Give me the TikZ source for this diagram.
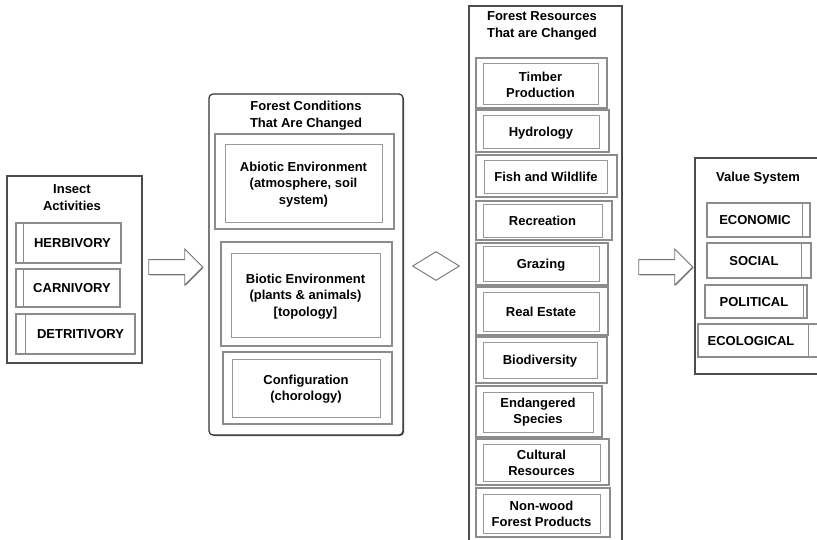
\documentclass[tikz,border=0pt]{standalone}
\usepackage{fontspec}
\setmainfont{Liberation Sans}
\usetikzlibrary{fit,shapes.geometric,shapes.arrows,shadows}
\begin{document}
\begin{tikzpicture}[x=1pt,y=-1pt,
  font=\fontsize{13}{16.5}\selectfont\bfseries,
  cont/.style={draw=black!70, line width=1.2pt, fill=white, inner sep=0pt},
  rcont/.style={draw=black!80, line width=1.2pt, fill=white, inner sep=0pt, rounded corners=4pt,
     drop shadow={shadow xshift=1pt, shadow yshift=-1pt, fill=black!70, opacity=1}},
  obox/.style={draw=black!45, line width=1.1pt, fill=white, inner sep=0pt,
     drop shadow={shadow xshift=1.2pt, shadow yshift=-1.2pt, fill=black!75, opacity=1}},
  ibox/.style={draw=black!40, line width=0.8pt, fill=white, inner sep=0pt},
  tabline/.style={draw=black!45, line width=0.9pt},
  lbl/.style={inner sep=0pt, align=center},
  barrow/.style={single arrow, draw=black!55, fill=white, line width=0.9pt,
     inner xsep=0pt, inner ysep=7pt, single arrow head extend=10.5pt,
     minimum height=54pt, single arrow tip angle=90,
     drop shadow={shadow xshift=0.8pt, shadow yshift=-0.8pt, fill=black!50, opacity=1}}]
\useasboundingbox (0,0) rectangle (817,539);
\clip (0,0) rectangle (817,539);

% ---------- Insect Activities ----------
\node[cont, fit={(7,176) (142,363)}] (insect) {};
\node[lbl] (insectT) at (72,197.5) {Insect\\Activities};
\node[obox, fit={(16,223) (121,263)}] (herb) {};
\draw[tabline] ([xshift=8pt]herb.north west) -- ([xshift=8pt]herb.south west);
\node[lbl] (herbT) at (72.5,243) {HERBIVORY};
\node[obox, fit={(16,269) (120,307)}] (carn) {};
\draw[tabline] ([xshift=8pt]carn.north west) -- ([xshift=8pt]carn.south west);
\node[lbl] (carnT) at (72,288) {CARNIVORY};
\node[obox, fit={(16,314) (135,354)}] (detr) {};
\draw[tabline] ([xshift=10pt]detr.north west) -- ([xshift=10pt]detr.south west);
\node[lbl] (detrT) at (80.5,334) {DETRITIVORY};

% ---------- arrow 1 ----------
\node[barrow] (arr1) at (172,267) {};

% ---------- Forest Conditions ----------
\node[rcont, fit={(209,94) (403,435)}] (cond) {};
\node[lbl] (condT) at (306,115.5) {Forest Conditions\\That Are Changed};
\node[obox, fit={(215,134) (394,229)}] (abio) {};
\node[ibox, fit={(225,144) (382,222)}] (abioI) {};
\node[lbl] (abioT) at (303.5,184.5) {Abiotic Environment\\(atmosphere, soil\\system)};
\node[obox, fit={(221,242) (392,346)}] (bio) {};
\node[ibox, fit={(231,253) (380,337)}] (bioI) {};
\node[lbl] (bioT) at (305.5,296.5) {Biotic Environment\\(plants \& animals)\\{[topology]}};
\node[obox, fit={(223,352) (392,424)}] (conf) {};
\node[ibox, fit={(232,359) (380,417)}] (confI) {};
\node[lbl] (confT) at (306,389) {Configuration\\(chorology)};

% ---------- diamond ----------
\node[diamond, draw=black!55, line width=0.9pt, fill=white, minimum width=47pt,
      minimum height=29pt, inner sep=0pt] (dia) at (436,266) {};

% ---------- Forest Resources ----------
\node[cont, fit={(469,6) (622,560)}] (res) {};
\node[lbl] (resT) at (542,26) {Forest Resources\\That are Changed};
\node[obox, fit={(476,58) (607,108)}] (tim) {};
\node[ibox, fit={(483,63) (598,104)}] (timI) {};
\node[lbl] (timT) at (540.5,85) {Timber\\Production};
\node[obox, fit={(476,110) (609,152)}] (hyd) {};
\node[ibox, fit={(483,115) (599,148)}] (hydI) {};
\node[lbl] (hydT) at (541,133) {Hydrology};
\node[obox, fit={(476,155) (617,197)}] (fish) {};
\node[ibox, fit={(484,160) (607,193)}] (fishI) {};
\node[lbl] (fishT) at (546,177) {Fish and Wildlife};
\node[obox, fit={(476,201) (612,240)}] (rec) {};
\node[ibox, fit={(483,204) (602,237)}] (recI) {};
\node[lbl] (recT) at (542.5,221) {Recreation};
\node[obox, fit={(476,243) (608,285)}] (gra) {};
\node[ibox, fit={(483,246) (599,281)}] (graI) {};
\node[lbl] (graT) at (541,265) {Grazing};
\node[obox, fit={(476,287) (608,335)}] (rea) {};
\node[ibox, fit={(483,292) (599,331)}] (reaI) {};
\node[lbl] (reaT) at (541,312) {Real Estate};
\node[obox, fit={(476,337) (607,383)}] (bdv) {};
\node[ibox, fit={(483,342) (597,378)}] (bdvI) {};
\node[lbl] (bdvT) at (540,361.5) {Biodiversity};
\node[obox, fit={(476,386) (602,437)}] (end) {};
\node[ibox, fit={(483,392) (593,432)}] (endI) {};
\node[lbl] (endT) at (538,412) {Endangered\\Species};
\node[obox, fit={(476,439) (609,485)}] (cul) {};
\node[ibox, fit={(483,444) (600,481)}] (culI) {};
\node[lbl] (culT) at (541.5,463) {Cultural\\Resources};
\node[obox, fit={(476,488) (610,537)}] (nwf) {};
\node[ibox, fit={(483,494) (600,533)}] (nwfI) {};
\node[lbl] (nwfT) at (541.5,514) {Non-wood\\Forest Products};

% ---------- arrow 2 ----------
\node[barrow] (arr2) at (662,267) {};

% ---------- Value System ----------
\node[cont, fit={(695,158) (822,374)}] (val) {};
\node[lbl] (valT) at (758,178) {Value System};
\node[obox, fit={(707,203) (810,237)}] (eco) {};
\draw[tabline] ([xshift=-8pt]eco.north east) -- ([xshift=-8pt]eco.south east);
\node[lbl] (ecoT) at (755,220) {ECONOMIC};
\node[obox, fit={(707,243) (811,278)}] (soc) {};
\draw[tabline] ([xshift=-10pt]soc.north east) -- ([xshift=-10pt]soc.south east);
\node[lbl] (socT) at (754,261) {SOCIAL};
\node[obox, fit={(705,285) (807,318)}] (pol) {};
\draw[tabline] ([xshift=-4pt]pol.north east) -- ([xshift=-4pt]pol.south east);
\node[lbl] (polT) at (754,302) {POLITICAL};
\node[obox, fit={(698,324) (830,357)}] (ecl) {};
\draw[tabline] ([xshift=-22pt]ecl.north east) -- ([xshift=-22pt]ecl.south east);
\node[lbl] (eclT) at (751,341) {ECOLOGICAL};
\end{tikzpicture}
\end{document}
